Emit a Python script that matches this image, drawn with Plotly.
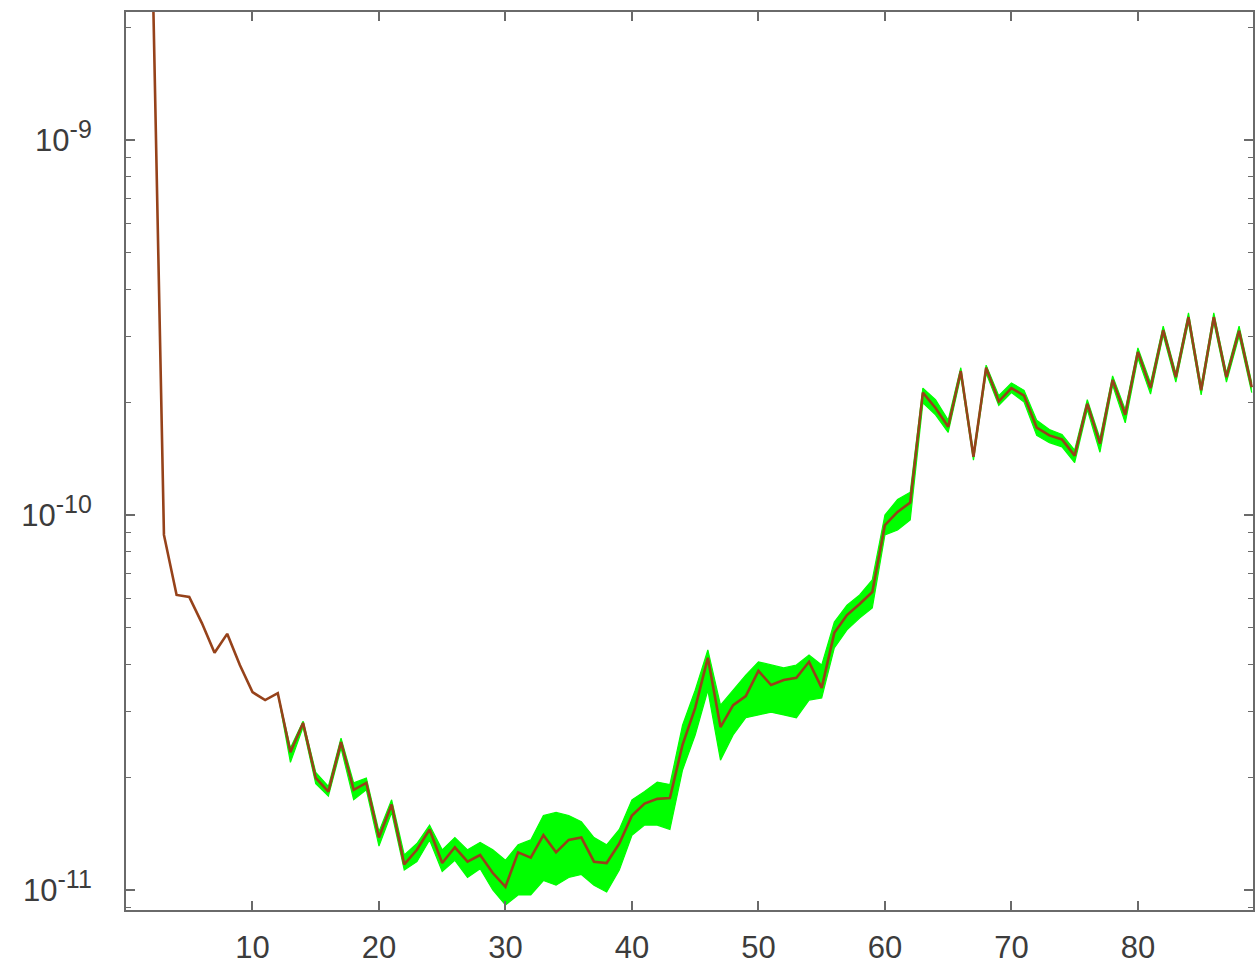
import plotly.graph_objects as go

# ---- data ----
x_red = list(range(2, 90))
y_red = [4.23e-9, 8.85e-11, 6.12e-11, 6.05e-11, 5.15e-11, 4.29e-11, 4.82e-11, 3.98e-11,
         3.37e-11, 3.21e-11, 3.35e-11, 2.33e-11, 2.79e-11, 1.99e-11, 1.83e-11, 2.48e-11,
         1.85e-11, 1.93e-11, 1.38e-11, 1.69e-11, 1.17e-11, 1.28e-11, 1.45e-11, 1.18e-11,
         1.30e-11, 1.19e-11, 1.24e-11, 1.11e-11, 1.02e-11, 1.26e-11, 1.22e-11, 1.40e-11,
         1.26e-11, 1.36e-11, 1.38e-11, 1.19e-11, 1.18e-11, 1.33e-11, 1.58e-11, 1.70e-11,
         1.75e-11, 1.76e-11, 2.44e-11, 3.06e-11, 4.16e-11, 2.72e-11, 3.11e-11, 3.29e-11,
         3.84e-11, 3.52e-11, 3.63e-11, 3.68e-11, 4.06e-11, 3.46e-11, 4.85e-11, 5.41e-11,
         5.79e-11, 6.23e-11, 9.40e-11, 1.019e-10, 1.08e-10, 2.12e-10, 1.93e-10, 1.72e-10,
         2.42e-10, 1.43e-10, 2.47e-10, 2.01e-10, 2.18e-10, 2.08e-10, 1.71e-10, 1.63e-10,
         1.59e-10, 1.44e-10, 1.98e-10, 1.55e-10, 2.29e-10, 1.85e-10, 2.72e-10, 2.18e-10,
         3.11e-10, 2.33e-10, 3.37e-10, 2.15e-10, 3.37e-10, 2.33e-10, 3.10e-10, 2.19e-10]

x_band = list(range(12, 90))
band_hi = [3.35e-11, 2.39e-11, 2.82e-11, 2.06e-11, 1.89e-11, 2.54e-11, 1.93e-11, 1.99e-11,
           1.43e-11, 1.74e-11, 1.24e-11, 1.33e-11, 1.49e-11, 1.28e-11, 1.38e-11, 1.28e-11,
           1.34e-11, 1.28e-11, 1.20e-11, 1.32e-11, 1.36e-11, 1.58e-11, 1.61e-11, 1.58e-11,
           1.52e-11, 1.38e-11, 1.32e-11, 1.45e-11, 1.74e-11, 1.83e-11, 1.94e-11, 1.91e-11,
           2.75e-11, 3.41e-11, 4.37e-11, 3.11e-11, 3.41e-11, 3.74e-11, 4.06e-11, 3.98e-11,
           3.91e-11, 3.98e-11, 4.23e-11, 3.98e-11, 5.18e-11, 5.75e-11, 6.12e-11, 6.71e-11,
           1.00e-10, 1.10e-10, 1.15e-10, 2.18e-10, 2.03e-10, 1.79e-10, 2.47e-10, 1.46e-10,
           2.51e-10, 2.08e-10, 2.25e-10, 2.15e-10, 1.79e-10, 1.69e-10, 1.64e-10, 1.49e-10,
           2.03e-10, 1.60e-10, 2.35e-10, 1.91e-10, 2.79e-10, 2.25e-10, 3.19e-10, 2.39e-10,
           3.46e-10, 2.21e-10, 3.46e-10, 2.39e-10, 3.19e-10, 2.25e-10]
band_lo = [3.35e-11, 2.19e-11, 2.72e-11, 1.92e-11, 1.78e-11, 2.39e-11, 1.74e-11, 1.85e-11,
           1.31e-11, 1.61e-11, 1.13e-11, 1.19e-11, 1.36e-11, 1.12e-11, 1.20e-11, 1.08e-11,
           1.14e-11, 1.00e-11, 9.12e-12, 9.70e-12, 9.70e-12, 1.06e-11, 1.03e-11, 1.08e-11,
           1.10e-11, 1.03e-11, 9.88e-12, 1.13e-11, 1.40e-11, 1.49e-11, 1.49e-11, 1.45e-11,
           2.09e-11, 2.59e-11, 3.41e-11, 2.22e-11, 2.59e-11, 2.88e-11, 2.93e-11, 2.98e-11,
           2.93e-11, 2.88e-11, 3.21e-11, 3.25e-11, 4.42e-11, 4.94e-11, 5.31e-11, 5.65e-11,
           8.85e-11, 9.12e-11, 9.70e-11, 1.99e-10, 1.85e-10, 1.66e-10, 2.35e-10, 1.40e-10,
           2.39e-10, 1.96e-10, 2.12e-10, 2.00e-10, 1.63e-10, 1.56e-10, 1.52e-10, 1.38e-10,
           1.91e-10, 1.47e-10, 2.22e-10, 1.76e-10, 2.62e-10, 2.10e-10, 3.02e-10, 2.26e-10,
           3.27e-10, 2.09e-10, 3.27e-10, 2.26e-10, 3.00e-10, 2.12e-10]

x_ticks = [10, 20, 30, 40, 50, 60, 70, 80]
y_ticks = [1e-11, 1e-10, 1e-9]
y_ticktext = ["10<sup><span style='font-size:25px'>-11</span></sup>",
              "10<sup><span style='font-size:25px'>-10</span></sup>",
              "10<sup><span style='font-size:25px'>-9</span></sup>"]
y_minor = [m * 10.0 ** p for p in (-12, -11, -10, -9) for m in range(2, 10)]

GREEN = "#00ff00"
RED = "rgb(150,66,26)"
AXIS = "#6a6a6a"
FONT = dict(family="Liberation Sans, Arial, sans-serif", size=31, color="#3c3c3c")

fig = go.Figure()
fig.add_trace(go.Scatter(x=x_band, y=band_lo, mode="lines",
                         line=dict(color=GREEN, width=1.2), showlegend=False,
                         hoverinfo="skip"))
fig.add_trace(go.Scatter(x=x_band, y=band_hi, mode="lines", fill="tonexty",
                         fillcolor=GREEN, line=dict(color=GREEN, width=1.2),
                         showlegend=False, hoverinfo="skip"))
fig.add_trace(go.Scatter(x=x_red, y=y_red, mode="lines",
                         line=dict(color=RED, width=2.6), showlegend=False))

fig.update_layout(
    width=1255, height=965,
    margin=dict(l=126, r=2, t=12, b=55, autoexpand=False),
    paper_bgcolor="white", plot_bgcolor="white",
    font=FONT,
)
fig.update_xaxes(
    range=[0, 89.1], tickvals=x_ticks, ticks="inside", ticklen=9, tickwidth=1.5,
    tickcolor=AXIS, showline=True, linecolor=AXIS, linewidth=2, mirror="ticks",
    showgrid=False, zeroline=False, ticklabelstandoff=9, tickfont=FONT,
    automargin=False,
)
fig.update_yaxes(
    type="log", range=[-11.0533, -8.6587], tickvals=y_ticks, ticktext=y_ticktext,
    ticks="inside", ticklen=9, tickwidth=1.5, tickcolor=AXIS,
    minor=dict(tickvals=y_minor, ticks="inside", ticklen=5, tickcolor=AXIS, tickwidth=1.2),
    showline=True, linecolor=AXIS, linewidth=2, mirror="ticks",
    showgrid=False, zeroline=False, ticklabelstandoff=26, tickfont=FONT,
    automargin=False,
)

fig.write_html(
    "out.html",
    config={"displayModeBar": False},
    post_script="document.body.style.margin='0';document.body.style.overflow='hidden';",
)
